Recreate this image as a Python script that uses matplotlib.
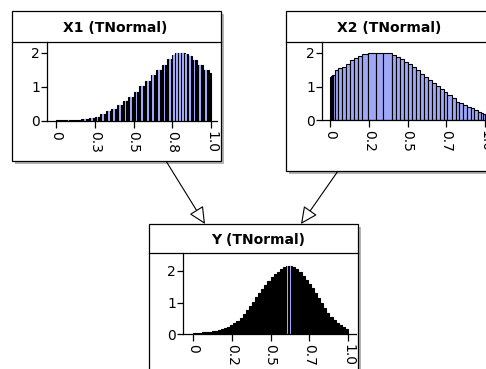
import numpy as np
import matplotlib
matplotlib.use("Agg")
import matplotlib.pyplot as plt
from matplotlib.patches import Rectangle, FancyArrowPatch, ArrowStyle

# ---- data ----
x1_edges = [0, 0.16, 0.21, 0.25, 0.286, 0.322, 0.358, 0.394, 0.43, 0.466, 0.502,
            0.538, 0.574, 0.61, 0.646, 0.682, 0.718, 0.75, 0.77, 0.79, 0.81, 0.83,
            0.85, 0.875, 0.912, 0.95, 0.987, 1.0]
x1_density = [0.03, 0.05, 0.08, 0.13, 0.2, 0.28, 0.36, 0.46, 0.58, 0.72, 0.86,
              1.02, 1.18, 1.34, 1.5, 1.66, 1.82, 1.94, 2.0, 2.0, 2.0, 1.98, 1.92,
              1.8, 1.64, 1.5, 1.4]
x1_ticklabels = ["0", "0.3", "0.5", "0.8", "1.0"]

x2_edges = [0, 0.005, 0.01, 0.015, 0.02, 0.032, 0.054, 0.08, 0.101, 0.129, 0.155,
            0.183, 0.204, 0.247, 0.295, 0.344, 0.398, 0.426, 0.452, 0.477, 0.505,
            0.531, 0.553, 0.581, 0.606, 0.63, 0.656, 0.682, 0.71, 0.735, 0.757,
            0.785, 0.811, 0.832, 0.858, 0.882, 0.908, 0.929, 0.953, 0.974, 0.985, 1.0]
x2_density = [1.28, 1.30, 1.32, 1.33, 1.34, 1.49, 1.56, 1.59, 1.66, 1.79, 1.86,
              1.92, 1.96, 2.0, 2.0, 2.0, 1.94, 1.89, 1.82, 1.74, 1.66, 1.59, 1.49,
              1.36, 1.29, 1.19, 1.09, 1.02, 0.93, 0.85, 0.75, 0.65, 0.53, 0.50,
              0.45, 0.40, 0.35, 0.30, 0.25, 0.22, 0.18]
x2_ticklabels = ["0", "0.2", "0.5", "0.7", "1.0"]

y_edges = [round(0.02 * i, 2) for i in range(51)]
y_density = [0.03, 0.03, 0.04, 0.05, 0.06, 0.07, 0.09, 0.11, 0.13, 0.16,
             0.19, 0.23, 0.28, 0.34, 0.42, 0.51, 0.62, 0.75, 0.88, 1.02,
             1.16, 1.30, 1.43, 1.56, 1.68, 1.80, 1.90, 1.98, 2.06, 2.12,
             2.16, 2.16, 2.14, 2.07, 1.96, 1.85, 1.73, 1.60, 1.45, 1.30,
             1.14, 0.98, 0.82, 0.67, 0.54, 0.43, 0.35, 0.28, 0.22, 0.16]
y_ticklabels = ["0", "0.2", "0.5", "0.7", "1.0"]
y_highlight = [30, 31]   # the two bins that show blue

BLUE = "#9ea8f6"
W, H = 486, 369
PX_PER_UNIT = 155

fig = plt.figure(figsize=(W / 100, H / 100), dpi=100)


def fx(x):
    return x / W


def fy(y):
    return 1 - y / H


def node_box(x0, y0, x1, y1, ysep, title, tx):
    fig.add_artist(Rectangle((fx(x0 + 3), fy(y1 + 3)), fx(x1 - x0), (y1 - y0) / H,
                             transform=fig.transFigure, fc="#b4b4b4", ec="none", zorder=1))
    fig.add_artist(Rectangle((fx(x0), fy(y1)), fx(x1 - x0), (y1 - y0) / H,
                             transform=fig.transFigure, fc="white", ec="black", lw=0.9, zorder=2))
    fig.add_artist(plt.Line2D([fx(x0), fx(x1)], [fy(ysep), fy(ysep)],
                              transform=fig.transFigure, color="black", lw=0.9, zorder=3))
    fig.text(fx(tx), fy((y0 + ysep) / 2 + 1), title, ha="center", va="center",
             fontsize=10, fontweight="bold", zorder=4)


def node_hist(rect, xlim, ytop, edges, heights, labels, stripe_px=None):
    x0, y0, x1, y1 = rect
    ax = fig.add_axes([fx(x0), fy(y1), fx(x1 - x0), (y1 - y0) / H])
    ax.set_zorder(5)
    ax.patch.set_alpha(0)
    edges = np.asarray(edges)
    left = edges[:-1]
    widths = np.diff(edges)
    if stripe_px is None:
        # plain blue bars with black outlines
        ax.bar(left, heights, width=widths, align="edge", color=BLUE,
               edgecolor="black", linewidth=0.8)
    else:
        # dense intervals: black ink with a thin blue stripe inside each bin
        ax.bar(left, heights, width=widths, align="edge", color="black",
               edgecolor="black", linewidth=0.8)
        s = np.asarray(stripe_px) / PX_PER_UNIT
        ax.bar(left + (widths - s) / 2, heights, width=s, align="edge",
               color=BLUE, linewidth=0)
    ax.set_xlim(*xlim)
    ax.set_ylim(0, ytop)
    ax.set_xticks([0, 0.25, 0.5, 0.75, 1.0])
    ax.set_xticklabels(labels)
    ax.set_yticks([0, 1, 2])
    ax.set_yticklabels(["0", "1", "2"])
    for s_ in ["top", "right"]:
        ax.spines[s_].set_visible(False)
    for s_ in ["left", "bottom"]:
        ax.spines[s_].set_linewidth(0.9)
    ax.tick_params(axis="x", length=5, width=0.9, pad=2, labelsize=10, labelrotation=-90)
    ax.tick_params(axis="y", length=4, width=0.9, pad=1, labelsize=10)
    return ax


# arrows between nodes
arrow_style = ArrowStyle("-|>", head_length=10.5, head_width=5)
for (ax_, ay_), (bx_, by_) in [((166, 161), (205, 224)), ((338, 171), (301, 224))]:
    fig.add_artist(FancyArrowPatch((fx(ax_), fy(ay_)), (fx(bx_), fy(by_)),
                                   transform=fig.transFigure, arrowstyle=arrow_style,
                                   mutation_scale=1, fc="white", ec="black", lw=0.8,
                                   shrinkA=0, shrinkB=0, zorder=1.5))

# X1 node
node_box(12, 11, 221, 161, 42, "X1 (TNormal)", 115)
w1 = np.diff(x1_edges) * PX_PER_UNIT
node_hist((47, 42, 217, 121), (-9 / 155, 161 / 155), 79 / 34,
          x1_edges, x1_density, x1_ticklabels, np.clip(w1 - 1.4, 0, 1.7))

# X2 node
node_box(286, 11, 492, 171, 42, "X2 (TNormal)", 389)
node_hist((322, 42, 491, 120), (-8 / 155, 161 / 155), 78 / 33.5,
          x2_edges, x2_density, x2_ticklabels)

# Y node
node_box(149, 224, 358, 390, 253, "Y (TNormal)", 258)
y_stripes = [1.5 if i in y_highlight else 0 for i in range(len(y_density))]
node_hist((183, 253, 356, 334), (-10 / 155, 163 / 155), 81 / 31.5,
          y_edges, y_density, y_ticklabels, y_stripes)

fig.savefig("out.png", dpi=100, facecolor="white")
